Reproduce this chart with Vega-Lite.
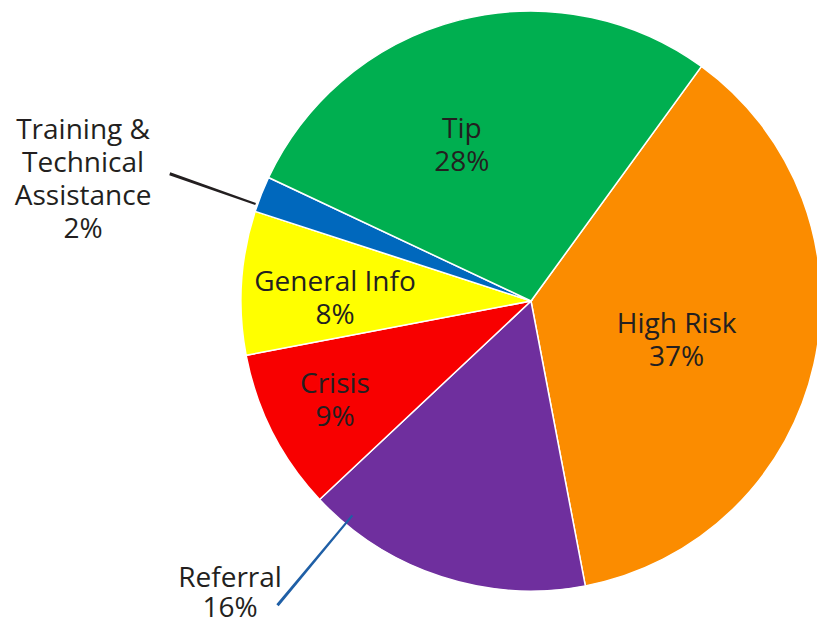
{
  "$schema": "https://vega.github.io/schema/vega-lite/v6.json",
  "width": 572,
  "height": 602,
  "autosize": {"type": "none"},
  "padding": {"left": 245, "top": 0, "right": 0, "bottom": 19},
  "background": "white",
  "config": {"view": {"stroke": null}, "text": {"font": "Open Sans"}},
  "data": {
    "values": [
      {"category": "High Risk", "label": "High Risk\n37%", "value": 37, "order": 1},
      {"category": "Referral", "label": "Referral\n16%", "value": 16, "order": 2},
      {"category": "Crisis", "label": "Crisis\n9%", "value": 9, "order": 3},
      {"category": "General Info", "label": "General Info\n8%", "value": 8, "order": 4},
      {"category": "Training & Technical Assistance", "label": "Training &\nTechnical\nAssistance\n2%", "value": 2, "order": 5},
      {"category": "Tip", "label": "Tip\n28%", "value": 28, "order": 6}
    ]
  },
  "encoding": {
    "theta": {"field": "value", "type": "quantitative", "stack": true, "scale": {"domain": [0, 100], "range": [0.62832, 6.9115]}},
    "order": {"field": "order", "type": "quantitative"},
    "detail": {"field": "category", "type": "nominal"}
  },
  "resolve": {"scale": {"theta": "independent"}},
  "layer": [
    {
      "mark": {"type": "arc", "outerRadius": 290, "stroke": "white", "strokeWidth": 1.5},
      "encoding": {
        "color": {
          "field": "category",
          "type": "nominal",
          "scale": {
            "domain": ["High Risk", "Referral", "Crisis", "General Info", "Training & Technical Assistance", "Tip"],
            "range": ["#FB8C00", "#6F2F9E", "#F80000", "#FFFF00", "#0068BD", "#00AF50"]
          },
          "legend": null
        }
      }
    },
    {
      "mark": {"type": "arc", "radius": 383, "radius2": 292, "color": "#231f20"},
      "encoding": {
        "theta": {"field": "value", "type": "quantitative", "stack": true, "scale": {"domain": [0, 100], "range": [4.7722, 5.1649]}},
        "opacity": {"condition": {"test": "datum.category === 'Training & Technical Assistance'", "value": 1}, "value": 0}
      }
    },
    {
      "mark": {"type": "arc", "radius": 396, "radius2": 279, "color": "#1F5FA6"},
      "encoding": {
        "theta": {"field": "value", "type": "quantitative", "stack": true, "scale": {"domain": [0, 100], "range": [3.8152, 3.8621]}},
        "opacity": {"condition": {"test": "datum.category === 'Referral'", "value": 1}, "value": 0}
      }
    },
    {
      "mark": {"type": "text", "radius": 170, "thetaOffset": -0.168, "dy": -16, "fontSize": 28, "lineHeight": 33, "lineBreak": "\n", "color": "#231f20", "font": "Open Sans"},
      "encoding": {"text": {"condition": {"test": "datum.category === 'Tip'", "field": "label"}, "value": ""}}
    },
    {
      "mark": {"type": "text", "radius": 151, "thetaOffset": 0.047, "dy": -16, "fontSize": 28, "lineHeight": 33, "lineBreak": "\n", "color": "#231f20", "font": "Open Sans"},
      "encoding": {"text": {"condition": {"test": "datum.category === 'High Risk'", "field": "label"}, "value": ""}}
    },
    {
      "mark": {"type": "text", "radius": 196, "thetaOffset": -0.052, "dy": -16, "fontSize": 28, "lineHeight": 33, "lineBreak": "\n", "color": "#231f20", "font": "Open Sans"},
      "encoding": {"text": {"condition": {"test": "datum.category === 'General Info'", "field": "label"}, "value": ""}}
    },
    {
      "mark": {"type": "text", "radius": 220, "dy": -16, "fontSize": 28, "lineHeight": 33, "lineBreak": "\n", "color": "#231f20", "font": "Open Sans"},
      "encoding": {"text": {"condition": {"test": "datum.category === 'Crisis'", "field": "label"}, "value": ""}}
    },
    {
      "mark": {"type": "text", "radius": 464, "thetaOffset": -0.113, "dy": -49, "fontSize": 28, "lineHeight": 33, "lineBreak": "\n", "color": "#231f20", "font": "Open Sans"},
      "encoding": {"text": {"condition": {"test": "datum.category === 'Training & Technical Assistance'", "field": "label"}, "value": ""}}
    },
    {
      "mark": {"type": "text", "radius": 419, "thetaOffset": 0.487, "dy": -14, "fontSize": 28, "lineHeight": 30, "lineBreak": "\n", "color": "#231f20", "font": "Open Sans"},
      "encoding": {"text": {"condition": {"test": "datum.category === 'Referral'", "field": "label"}, "value": ""}}
    }
  ]
}
